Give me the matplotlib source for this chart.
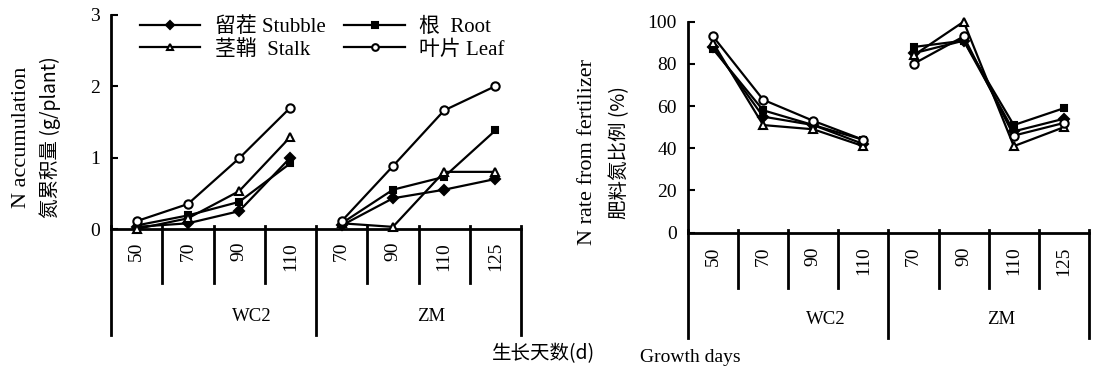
import matplotlib
matplotlib.use("Agg")
import matplotlib.pyplot as plt

# categories (growth days within each variety)
days = ["50", "70", "90", "110", "70", "90", "110", "125"]
groups = ["WC2", "ZM"]

# N accumulation (g/plant)
acc_stubble = [0.03, 0.08, 0.25, 1.00, 0.05, 0.43, 0.55, 0.70]
acc_root = [0.05, 0.19, 0.38, 0.92, 0.08, 0.55, 0.73, 1.38]
acc_stalk = [0.00, 0.15, 0.53, 1.29, 0.08, 0.03, 0.80, 0.80]
acc_leaf = [0.11, 0.35, 0.99, 1.70, 0.11, 0.88, 1.66, 2.00]

# N rate from fertilizer (%)
rate_stubble = [88, 55, 51, 42, 85, 91, 48, 54]
rate_root = [87, 58, 51, 44, 88, 91, 51, 59]
rate_stalk = [90, 51, 49, 41, 84, 100, 41, 50]
rate_leaf = [93, 63, 53, 44, 80, 93, 46, 52]

SERIF = ["Liberation Serif", "Noto Sans CJK SC"]
CJK = ["Noto Sans CJK SC", "Liberation Serif"]

plt.rcParams["font.family"] = SERIF
plt.rcParams["axes.linewidth"] = 2.0

fig = plt.figure(figsize=(10.95, 3.75), dpi=100)
ax1 = fig.add_axes([0.1014, 0.3893, 0.3744, 0.5715])
ax2 = fig.add_axes([0.6283, 0.3795, 0.3662, 0.5627])

xs = list(range(len(days)))

# label, marker, face colour, marker size
styles = [
    ("留茬 Stubble", "D", "black", 5),
    ("根  Root", "s", "black", 5),
    ("茎鞘  Stalk", "^", "white", 6),
    ("叶片 Leaf", "o", "white", 6),
]


def draw_panel(ax, series, ymax, yticks, short_len, long_len, lab_y, grp_y):
    handles = []
    for (label, mk, fc, ms), vals in zip(styles, series):
        for g in range(2):
            sl = slice(4 * g, 4 * g + 4)
            ln, = ax.plot(xs[sl], vals[sl], color="black", lw=1.6, marker=mk,
                          ms=ms, mfc=fc, mec="black", mew=1.5,
                          label=label if g == 0 else None, clip_on=False,
                          zorder=3)
            if g == 0:
                handles.append(ln)
    ax.set_xlim(-0.5, len(days) - 0.5)
    ax.set_ylim(0, ymax)
    ax.set_yticks(yticks)
    ax.tick_params(axis="y", direction="in", length=5, width=1.5,
                   labelsize=14, pad=8)
    ax.set_xticks([])
    for s in ("top", "right"):
        ax.spines[s].set_visible(False)
    tr = ax.get_xaxis_transform()
    # divider lines below the axis
    for i in range(len(days) + 1):
        xd = i - 0.5
        long_line = i in (0, 4, 8)
        y_end = long_len if long_line else short_len
        ax.plot([xd, xd], [0.015, y_end], transform=tr, color="black",
                lw=2.0, clip_on=False)
    for x, d in zip(xs, days):
        ax.text(x, lab_y, d, transform=tr, rotation=90, ha="center",
                va="top", fontsize=14)
    ax.text(2.25, grp_y, groups[0], transform=tr, ha="center", va="center",
            fontsize=13.5)
    ax.text(5.75, grp_y, groups[1], transform=tr, ha="center", va="center",
            fontsize=13.5)
    return handles


h = draw_panel(ax1, [acc_stubble, acc_root, acc_stalk, acc_leaf], 3,
               [0, 1, 2, 3], -0.252, -0.495, -0.06, -0.41)
draw_panel(ax2, [rate_stubble, rate_root, rate_stalk, rate_leaf], 100,
           [0, 20, 40, 60, 80, 100], -0.262, -0.499, -0.065, -0.41)

# column 1: Stubble, Stalk; column 2: Root, Leaf
order = [0, 2, 1, 3]
ax1.legend([h[i] for i in order], [h[i].get_label() for i in order],
           ncol=2, loc="upper left", bbox_to_anchor=(0.045, 1.035),
           frameon=False, fontsize=15, handlelength=2.9, handletextpad=0.7,
           columnspacing=0.9, labelspacing=0.12, borderpad=0.0,
           markerscale=0.8)

# axis titles
fig.text(22 / 1095, 1 - 137 / 375, "N accumulation", rotation=90,
         ha="center", va="center", fontsize=16, family=SERIF)
fig.text(50 / 1095, 1 - 137 / 375, "氮累积量 (g/plant)", rotation=90,
         ha="center", va="center", fontsize=14, family=CJK)
fig.text(587 / 1095, 1 - 152 / 375, "N rate from fertilizer", rotation=90,
         ha="center", va="center", fontsize=16, family=SERIF)
fig.text(620 / 1095, 1 - 153 / 375, "肥料氮比例 (%)", rotation=90,
         ha="center", va="center", fontsize=14, family=CJK)
fig.text(543 / 1095, 1 - 354 / 375, "生长天数(d)", ha="center",
         va="center", fontsize=14, family=CJK)
fig.text(690 / 1095, 1 - 358 / 375, "Growth days", ha="center",
         va="center", fontsize=14, family=SERIF)

fig.savefig("out.png", dpi=100)
